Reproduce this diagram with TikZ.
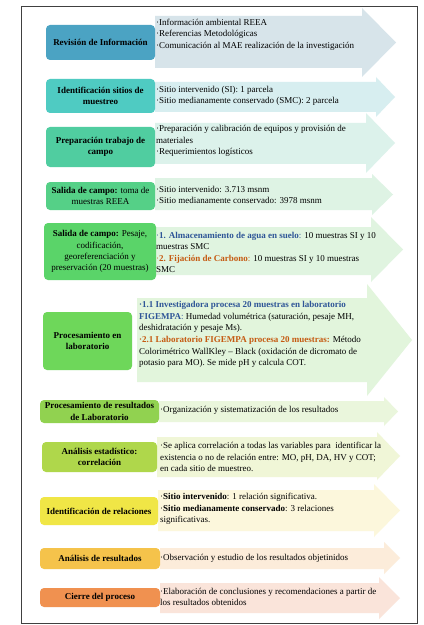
\documentclass[tikz,border=0pt]{standalone}
\usepackage{fontspec}
\setmainfont{Liberation Serif}
\definecolor{bxA}{HTML}{4BA3C3}
\definecolor{bxB}{HTML}{4FCBC2}
\definecolor{bxC}{HTML}{50CDA0}
\definecolor{bxD}{HTML}{55D087}
\definecolor{bxE}{HTML}{5AD469}
\definecolor{bxF}{HTML}{6ED75A}
\definecolor{bxG}{HTML}{91D250}
\definecolor{bxH}{HTML}{AFD74B}
\definecolor{bxI}{HTML}{F0E646}
\definecolor{bxJ}{HTML}{F5C34B}
\definecolor{bxK}{HTML}{F09150}
\definecolor{arA}{HTML}{D7E4EA}
\definecolor{arB}{HTML}{D7EEF0}
\definecolor{arC}{HTML}{DCF2EB}
\definecolor{arD}{HTML}{DEF3E4}
\definecolor{arE}{HTML}{E0F4E0}
\definecolor{arF}{HTML}{E2F5DC}
\definecolor{arG}{HTML}{EAF6DC}
\definecolor{arH}{HTML}{F0F6D7}
\definecolor{arI}{HTML}{FCF7DC}
\definecolor{arJ}{HTML}{FCECDA}
\definecolor{arK}{HTML}{FAE4DA}
\definecolor{txtblue}{HTML}{2E5597}
\definecolor{txtorange}{HTML}{C55A11}
\definecolor{framegray}{HTML}{404040}
% #1 color, #2 x0, #3 body top, #4 body bottom, #5 head start, #6 head top, #7 head bottom, #8 tip x
\newcommand\procarrow[8]{%
  \fill[#1] (#2,#3) -- (#5,#3) -- (#5,#6) -- (#8,{(#6+#7)/2}) -- (#5,#7) -- (#5,#4) -- (#2,#4) -- cycle;}
\begin{document}
\begin{tikzpicture}[x=1bp,y=-1bp,
  procbox/.style={rounded corners=4bp, inner sep=1bp, align=center,
    font=\fontsize{9bp}{11.3bp}\selectfont\bfseries, text=black},
  desc/.style={anchor=west, inner sep=0pt, align=left,
    font=\fontsize{9bp}{11.6bp}\selectfont, text=black}]
\useasboundingbox (0,0) rectangle (423,625);
\fill[white] (0,0) rectangle (423,625);
\draw[framegray, line width=1bp] (21,7) rectangle (417,623);

% arrows
\procarrow{arA}{155}{16}{68}{362}{8}{77}{396}
\procarrow{arB}{155}{82}{112}{376}{77}{117}{395}
\procarrow{arC}{155}{123}{164}{366}{113}{173}{395}
\procarrow{arD}{155}{178}{210}{372}{174}{215}{393}
\procarrow{arE}{156}{227}{275}{371}{217}{282}{403}
\procarrow{arF}{137}{298}{382}{367}{284}{396}{412}
\procarrow{arG}{159}{401}{422}{384}{397}{426}{398}
\procarrow{arH}{157}{437}{477}{377}{432}{480}{400}
\procarrow{arI}{158}{490}{531}{374}{484}{537}{400}
\procarrow{arJ}{160}{548}{569}{384}{542}{574}{400}
\procarrow{arK}{160}{583}{613}{379}{577}{619}{400}

% boxes
\node[procbox, fill=bxA, minimum width=109bp, minimum height=35bp] (b1) at (100.5,42.5) {Revisión de Información};
\node[procbox, fill=bxB, minimum width=109bp, minimum height=34bp] (b2) at (100.5,96) {Identificación sitios de\\muestreo};
\node[procbox, fill=bxC, minimum width=109bp, minimum height=40bp] (b3) at (100.5,147) {Preparación trabajo de\\campo};
\node[procbox, fill=bxD, minimum width=109bp, minimum height=28bp] (b4) at (100.5,196) {Salida de campo: \textmd{toma de}\\\textmd{muestras REEA}};
\node[procbox, fill=bxE, minimum width=112bp, minimum height=57bp] (b5) at (100,251.5) {Salida de campo: \textmd{Pesaje,}\\\textmd{codificación,}\\\textmd{georeferenciación y}\\\textmd{preservación (20 muestras)}};
\node[procbox, fill=bxF, minimum width=89bp, minimum height=58bp] (b6) at (87.5,341) {Procesamiento en\\laboratorio};
\node[procbox, fill=bxG, minimum width=119bp, minimum height=23bp] (b7) at (99.5,411.5) {Procesamiento de resultados\\de Laboratorio};
\node[procbox, fill=bxH, minimum width=115bp, minimum height=30bp] (b8) at (99.5,457) {Análisis estadístico:\\correlación};
\node[procbox, fill=bxI, minimum width=118bp, minimum height=28bp] (b9) at (99,511) {Identificación de relaciones};
\node[procbox, fill=bxJ, minimum width=120bp, minimum height=21bp] (b10) at (100,558.5) {Análisis de resultados};
\node[procbox, fill=bxK, minimum width=120bp, minimum height=19bp] (b11) at (100,597.5) {Cierre del proceso};

% descriptions
\node[desc] (d1) at (156,34.5) {·Información ambiental REEA\\·Referencias Metodológicas\\·Comunicación al MAE realización de la investigación};
\node[desc] (d2) at (156,96) {·Sitio intervenido (SI): 1 parcela\\·Sitio medianamente conservado (SMC): 2 parcela};
\node[desc] (d3) at (156,141) {·Preparación y calibración de equipos y provisión de\\materiales\\·Requerimientos logísticos};
\node[desc] (d4) at (156,195) {·Sitio intervenido: 3.713 msnm\\·Sitio medianamente conservado: 3978 msnm};
\node[desc] (d5) at (156,252.5) {{\color{txtblue}·\textbf{1. Almacenamiento de agua en suelo}:} 10 muestras SI y 10\\muestras SMC\\{\color{txtorange}·\textbf{2. Fijación de Carbono}:} 10 muestras SI y 10 muestras\\SMC};
\node[desc] (d6) at (139,334.5) {{\color{txtblue}\textbf{·1.1 Investigadora procesa 20 muestras en laboratorio}}\\{\color{txtblue}\textbf{FIGEMPA}:} Humedad volumétrica (saturación, pesaje MH,\\deshidratación y pesaje Ms).\\{\color{txtorange}\textbf{·2.1 Laboratorio FIGEMPA procesa 20 muestras:}} Método\\Colorimétrico WallKley – Black (oxidación de dicromato de\\potasio para MO). Se mide pH y calcula COT.};
\node[desc] (d7) at (160,410) {·Organización y sistematización de los resultados};
\node[desc] (d8) at (160,457) {·Se aplica correlación a todas las variables para~ identificar la\\existencia o no de relación entre: MO, pH, DA, HV y COT;\\en cada sitio de muestreo.};
\node[desc] (d9) at (160,509) {·\textbf{Sitio intervenido}: 1 relación significativa.\\·\textbf{Sitio medianamente conservado}: 3 relaciones\\significativas.};
\node[desc] (d10) at (160,558) {·Observación y estudio de los resultados objetinidos};
\node[desc] (d11) at (160,597) {·Elaboración de conclusiones y recomendaciones a partir de\\los resultados obtenidos};
\end{tikzpicture}
\end{document}
